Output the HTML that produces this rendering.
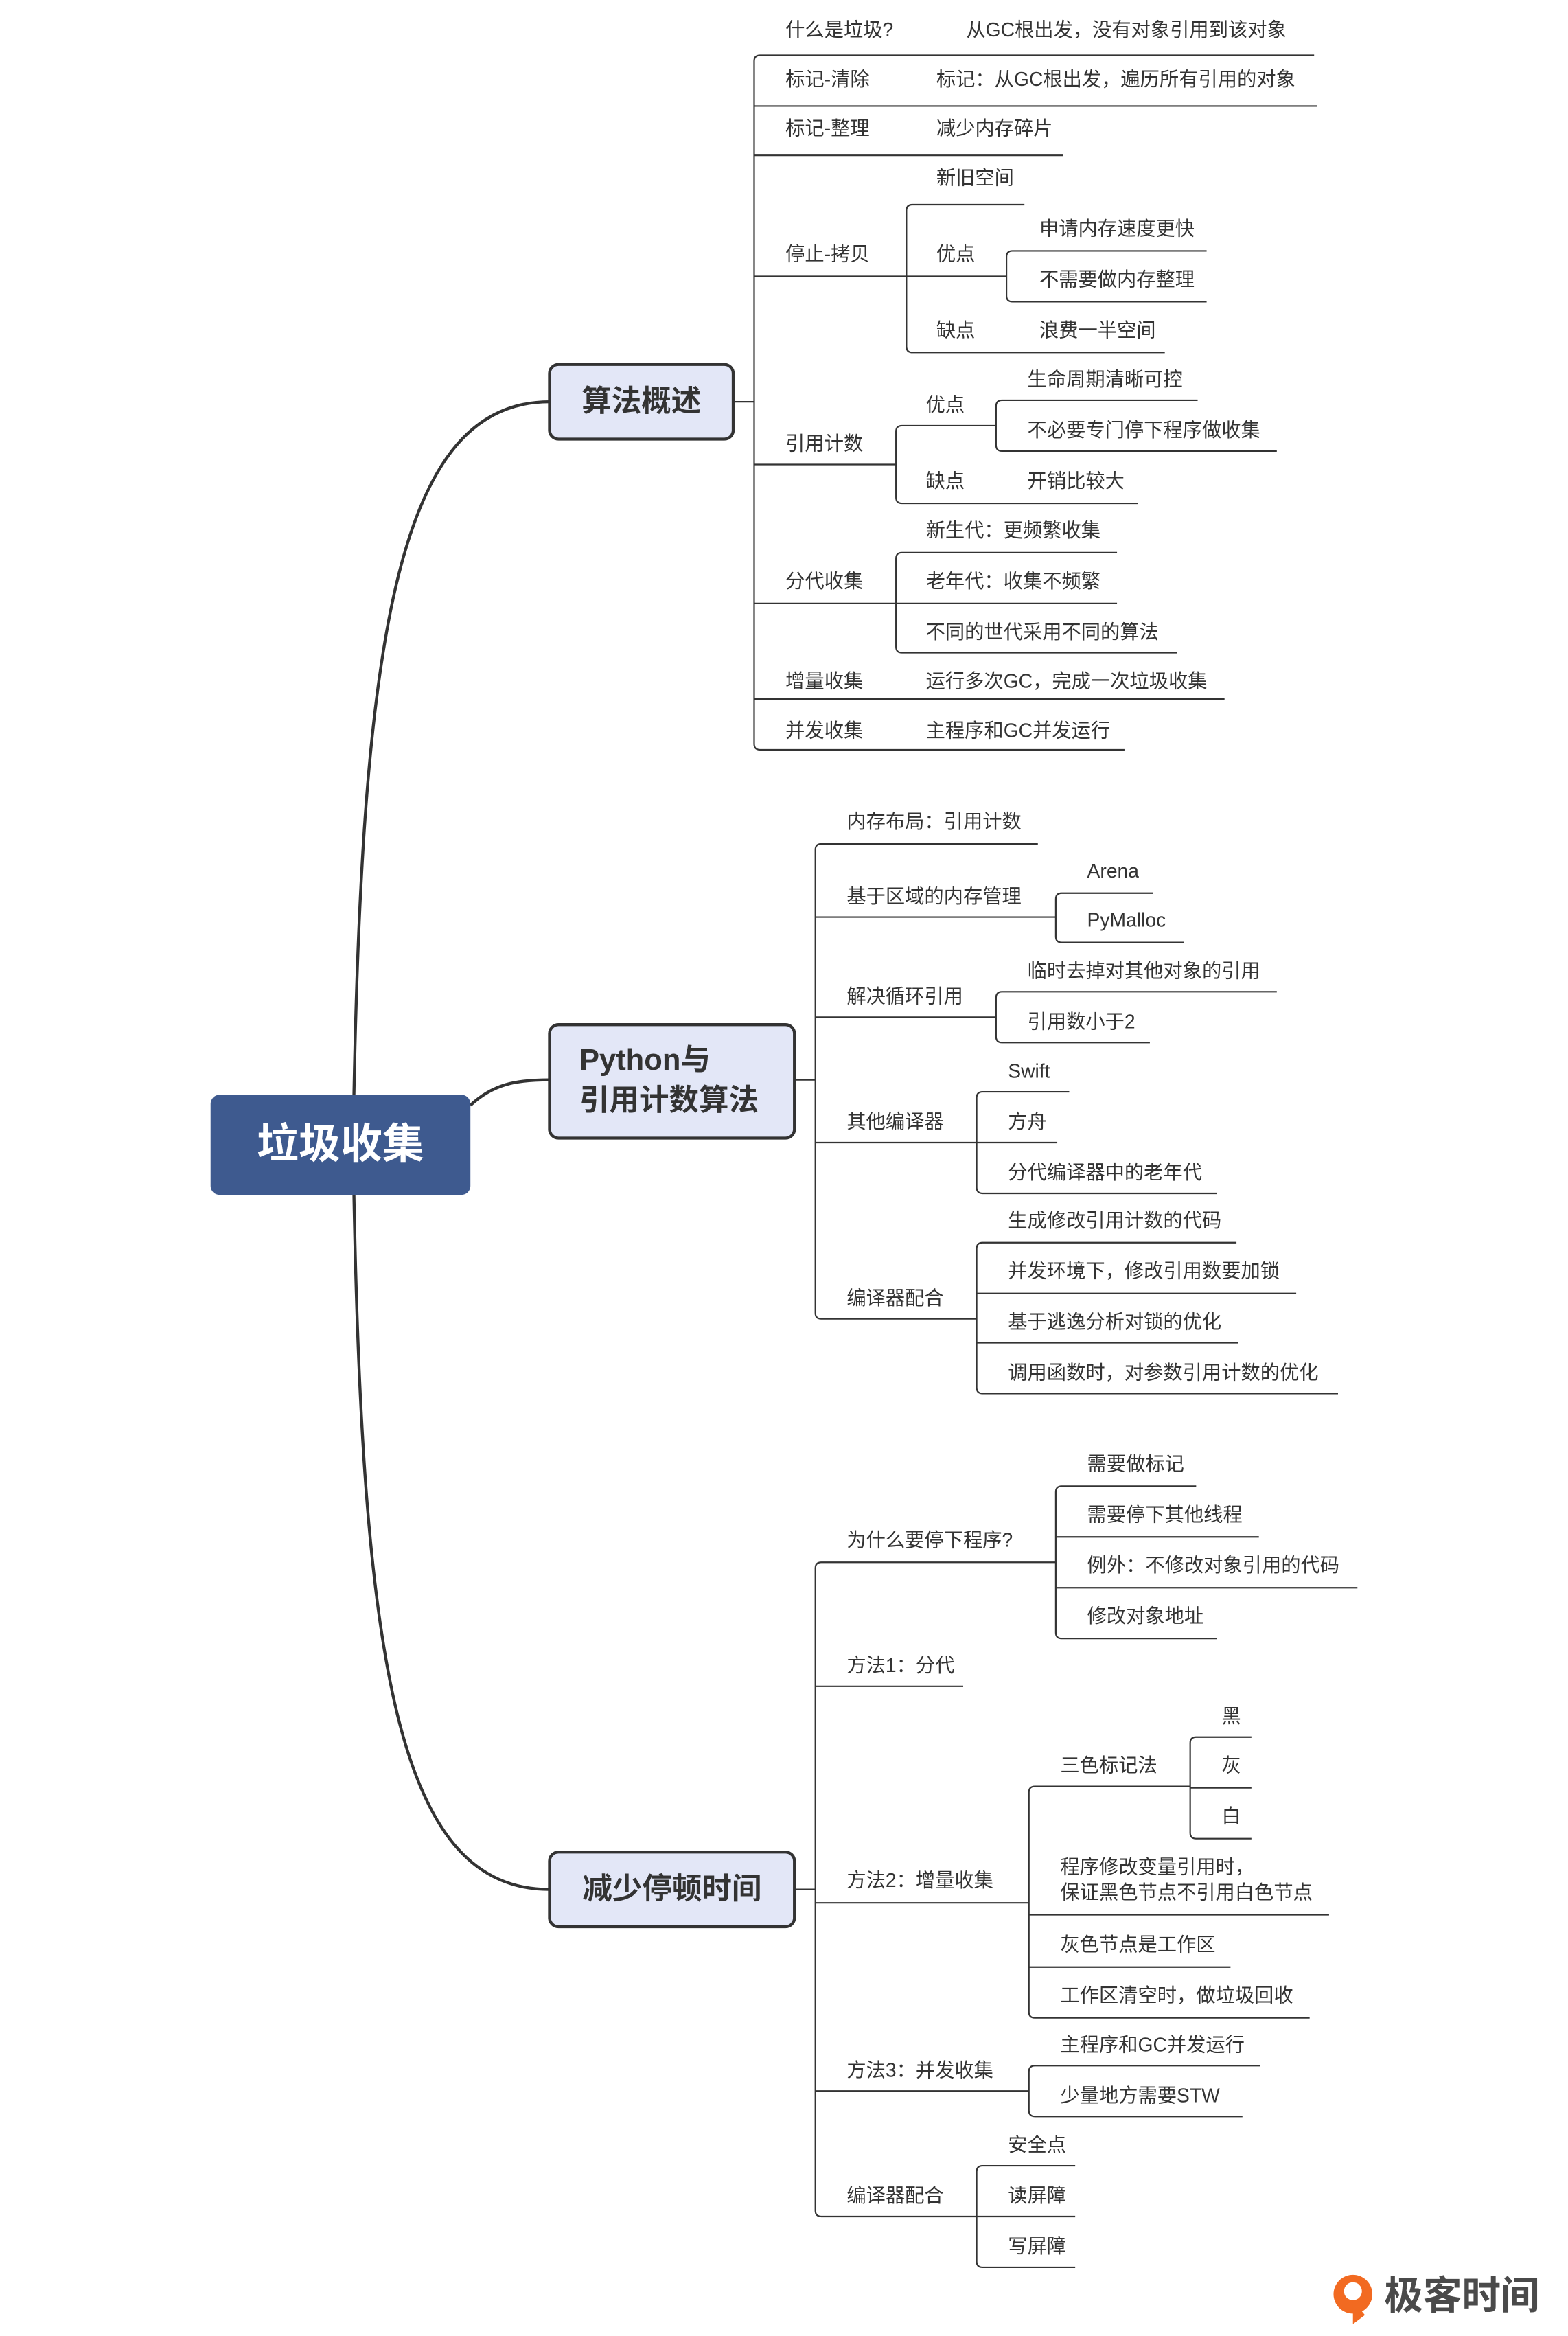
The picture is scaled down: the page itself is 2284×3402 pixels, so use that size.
<!DOCTYPE html>
<html><head><meta charset="utf-8">
<style>
html,body{margin:0;padding:0;background:#fff;}
svg{display:block;}
text{font-family:"Liberation Sans","Noto Sans CJK SC",sans-serif;fill:#333;font-size:13px;dominant-baseline:middle;}
.l{fill:none;stroke:#333;stroke-width:1;}
.m{fill:none;stroke:#333;stroke-width:2;}
.bx{fill:#e3e7f7;stroke:#333;stroke-width:2;}
.bt{font-size:20px;font-weight:bold;}
</style></head>
<body>
<svg width="2284" height="3402" viewBox="0 0 1050 1564" xmlns="http://www.w3.org/2000/svg">
<!-- main curves -->
<path class="m" d="M237,733 C243,420 268,269 368,269"/>
<path class="m" d="M237,800 C243,1120 268,1265 368,1265"/>
<path class="m" d="M315,740 C330,726 345,723 368,723"/>

<!-- root -->
<rect x="141" y="733" width="174" height="67" rx="6" fill="#3e5a8f"/>
<text x="228" y="768" text-anchor="middle" style="font-size:28px;font-weight:bold;fill:#fff">垃圾收集</text>

<!-- boxes -->
<rect class="bx" x="368" y="244" width="123" height="50" rx="6"/>
<text class="bt" x="429.5" y="270" text-anchor="middle">算法概述</text>
<rect class="bx" x="368" y="686" width="164" height="76" rx="6"/>
<text class="bt" x="388" y="711">Python与</text>
<text class="bt" x="388" y="738">引用计数算法</text>
<rect class="bx" x="368" y="1240" width="164" height="50" rx="6"/>
<text class="bt" x="450" y="1266" text-anchor="middle">减少停顿时间</text>

<!-- Branch 1 lines -->
<path class="l" d="M491,269 L505,269"/>
<path class="l" d="M880,37 L509,37 Q505,37 505,41 L505,498 Q505,502 509,502 L753,502"/>
<path class="l" d="M505,71 L882,71 M505,104 L712,104 M505,185 L607,185 M505,311 L600,311 M505,404 L600,404 M505,468 L820,468"/>
<path class="l" d="M686,137 L611,137 Q607,137 607,141 L607,232 Q607,236 611,236 L780,236 M607,185 L674,185"/>
<path class="l" d="M808,168 L678,168 Q674,168 674,172 L674,198 Q674,202 678,202 L808,202"/>
<path class="l" d="M667,285 L604,285 Q600,285 600,289 L600,333 Q600,337 604,337 L762,337"/>
<path class="l" d="M802,268 L671,268 Q667,268 667,272 L667,298 Q667,302 671,302 L855,302"/>
<path class="l" d="M748,370 L604,370 Q600,370 600,374 L600,433 Q600,437 604,437 L788,437 M600,404 L748,404"/>

<!-- Branch 1 text -->
<text x="526" y="21">什么是垃圾?</text><text x="647" y="21">从GC根出发，没有对象引用到该对象</text>
<text x="526" y="54">标记-清除</text><text x="627" y="54">标记：从GC根出发，遍历所有引用的对象</text>
<text x="526" y="87">标记-整理</text><text x="627" y="87">减少内存碎片</text>
<text x="526" y="171">停止-拷贝</text>
<text x="627" y="120">新旧空间</text>
<text x="627" y="171">优点</text>
<text x="696" y="154">申请内存速度更快</text>
<text x="696" y="188">不需要做内存整理</text>
<text x="627" y="222">缺点</text><text x="696" y="222">浪费一半空间</text>
<text x="526" y="298">引用计数</text>
<text x="620" y="272">优点</text>
<text x="688" y="255">生命周期清晰可控</text>
<text x="688" y="289">不必要专门停下程序做收集</text>
<text x="620" y="323">缺点</text><text x="688" y="323">开销比较大</text>
<text x="526" y="390">分代收集</text>
<text x="620" y="356">新生代：更频繁收集</text>
<text x="620" y="390">老年代：收集不频繁</text>
<text x="620" y="424">不同的世代采用不同的算法</text>
<text x="526" y="457">增量收集</text><text x="620" y="457">运行多次GC，完成一次垃圾收集</text>
<text x="526" y="490">并发收集</text><text x="620" y="490">主程序和GC并发运行</text>

<!-- Branch 2 lines -->
<path class="l" d="M532,723 L546,723"/>
<path class="l" d="M695,565 L550,565 Q546,565 546,569 L546,879 Q546,883 550,883 L654,883"/>
<path class="l" d="M546,614 L707,614 M546,681 L667,681 M546,765 L654,765"/>
<path class="l" d="M772,598 L711,598 Q707,598 707,602 L707,627 Q707,631 711,631 L793,631"/>
<path class="l" d="M855,664 L671,664 Q667,664 667,668 L667,694 Q667,698 671,698 L770,698"/>
<path class="l" d="M716,731 L658,731 Q654,731 654,735 L654,795 Q654,799 658,799 L815,799 M654,765 L708,765"/>
<path class="l" d="M828,832 L658,832 Q654,832 654,836 L654,929 Q654,933 658,933 L896,933 M654,866 L868,866 M654,899 L829,899"/>

<!-- Branch 2 text -->
<text x="567" y="551">内存布局：引用计数</text>
<text x="567" y="601">基于区域的内存管理</text>
<text x="728" y="584">Arena</text>
<text x="728" y="617">PyMalloc</text>
<text x="567" y="668">解决循环引用</text>
<text x="688" y="651">临时去掉对其他对象的引用</text>
<text x="688" y="685">引用数小于2</text>
<text x="567" y="752">其他编译器</text>
<text x="675" y="718">Swift</text>
<text x="675" y="752">方舟</text>
<text x="675" y="786">分代编译器中的老年代</text>
<text x="567" y="870">编译器配合</text>
<text x="675" y="818">生成修改引用计数的代码</text>
<text x="675" y="852">并发环境下，修改引用数要加锁</text>
<text x="675" y="886">基于逃逸分析对锁的优化</text>
<text x="675" y="920">调用函数时，对参数引用计数的优化</text>

<!-- Branch 3 lines -->
<path class="l" d="M532,1265 L546,1265"/>
<path class="l" d="M707,1046 L550,1046 Q546,1046 546,1050 L546,1480 Q546,1484 550,1484 L654,1484"/>
<path class="l" d="M546,1129 L645,1129 M546,1274 L689,1274 M546,1400 L689,1400"/>
<path class="l" d="M801,995 L711,995 Q707,995 707,999 L707,1093 Q707,1097 711,1097 L815,1097 M707,1029 L843,1029 M707,1063 L909,1063"/>
<path class="l" d="M797,1196 L693,1196 Q689,1196 689,1200 L689,1347 Q689,1351 693,1351 L877,1351 M689,1282 L890,1282 M689,1317 L824,1317"/>
<path class="l" d="M838,1163 L801,1163 Q797,1163 797,1167 L797,1227 Q797,1231 801,1231 L838,1231 M797,1197 L838,1197"/>
<path class="l" d="M844,1383 L693,1383 Q689,1383 689,1387 L689,1413 Q689,1417 693,1417 L832,1417"/>
<path class="l" d="M720,1450 L658,1450 Q654,1450 654,1454 L654,1514 Q654,1518 658,1518 L720,1518 M654,1484 L720,1484"/>

<!-- Branch 3 text -->
<text x="567" y="1032">为什么要停下程序?</text>
<text x="728" y="981">需要做标记</text>
<text x="728" y="1015">需要停下其他线程</text>
<text x="728" y="1049">例外：不修改对象引用的代码</text>
<text x="728" y="1083">修改对象地址</text>
<text x="567" y="1116">方法1：分代</text>
<text x="567" y="1260">方法2：增量收集</text>
<text x="710" y="1183">三色标记法</text>
<text x="818" y="1150">黑</text>
<text x="818" y="1183">灰</text>
<text x="818" y="1217">白</text>
<text x="710" y="1251">程序修改变量引用时，</text>
<text x="710" y="1268">保证黑色节点不引用白色节点</text>
<text x="710" y="1303">灰色节点是工作区</text>
<text x="710" y="1337">工作区清空时，做垃圾回收</text>
<text x="567" y="1387">方法3：并发收集</text>
<text x="710" y="1370">主程序和GC并发运行</text>
<text x="710" y="1404">少量地方需要STW</text>
<text x="567" y="1471">编译器配合</text>
<text x="675" y="1437">安全点</text>
<text x="675" y="1471">读屏障</text>
<text x="675" y="1505">写屏障</text>

<!-- logo -->
<circle cx="906" cy="1536" r="13" fill="#f26a21"/>
<circle cx="906" cy="1534" r="6" fill="#fff"/>
<path d="M906,1540 L906,1556 L914,1550 Z" fill="#f26a21"/>
<text x="927" y="1539" style="font-size:26px;font-weight:bold;fill:#4a4a4a">极客时间</text>
</svg>
</body></html>
